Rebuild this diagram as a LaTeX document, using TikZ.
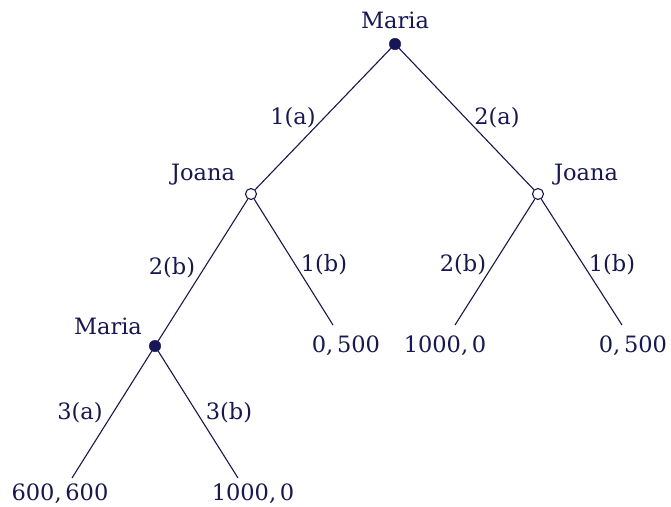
\documentclass[tikz,border=0pt]{standalone}
\usepackage{fontspec}
\setmainfont{DejaVu Serif}
\definecolor{ink}{RGB}{22,22,88}
\begin{document}
\begin{tikzpicture}[x=1pt,y=-1pt,
  every node/.style={text=ink,font=\fontsize{22.5}{26}\selectfont},
  edge/.style={draw=ink,line width=1.1pt},
  filled/.style={circle,fill=ink,draw=ink,inner sep=0pt,minimum size=11.5pt},
  open/.style={circle,fill=white,draw=ink,line width=1.1pt,inner sep=0pt,minimum size=11pt},
  lbl/.style={inner sep=1pt}]
\useasboundingbox (0,0) rectangle (671,506);
% decision nodes
\node[filled] (m1) at (395,44) {};
\node[open] (j1) at (251,194) {};
\node[open] (j2) at (538,194) {};
\node[filled] (m2) at (155,346) {};
% terminal ends
\coordinate (t1) at (333,325);
\coordinate (t2) at (455,325);
\coordinate (t3) at (622,325);
\coordinate (t4) at (72,478);
\coordinate (t5) at (238,478);
% edges
\draw[edge] (m1) -- (j1);
\draw[edge] (m1) -- (j2);
\draw[edge] (j1) -- (m2);
\draw[edge] (j1) -- (t1);
\draw[edge] (j2) -- (t2);
\draw[edge] (j2) -- (t3);
\draw[edge] (m2) -- (t4);
\draw[edge] (m2) -- (t5);
% player names
\node[lbl] (n1) at (395,20) {Maria};
\node[lbl] (n2) at (203,175) {Joana};
\node[lbl] (n3) at (586,175) {Joana};
\node[lbl] (n4) at (108,326) {Maria};
% edge labels
\node[lbl] (e1) at (293,118) {1(a)};
\node[lbl] (e2) at (497,118) {2(a)};
\node[lbl] (e3) at (172,268) {2(b)};
\node[lbl] (e4) at (324,265) {1(b)};
\node[lbl] (e5) at (463,265) {2(b)};
\node[lbl] (e6) at (612,265) {1(b)};
\node[lbl] (e7) at (80,413) {3(a)};
\node[lbl] (e8) at (229,413) {3(b)};
% payoffs
\node[lbl] (p1) at (346,346) {0,\,500};
\node[lbl] (p2) at (445,346) {1000,\,0};
\node[lbl] (p3) at (633,346) {0,\,500};
\node[lbl] (p4) at (60,494) {600,\,600};
\node[lbl] (p5) at (253,494) {1000,\,0};
\end{tikzpicture}
\end{document}
